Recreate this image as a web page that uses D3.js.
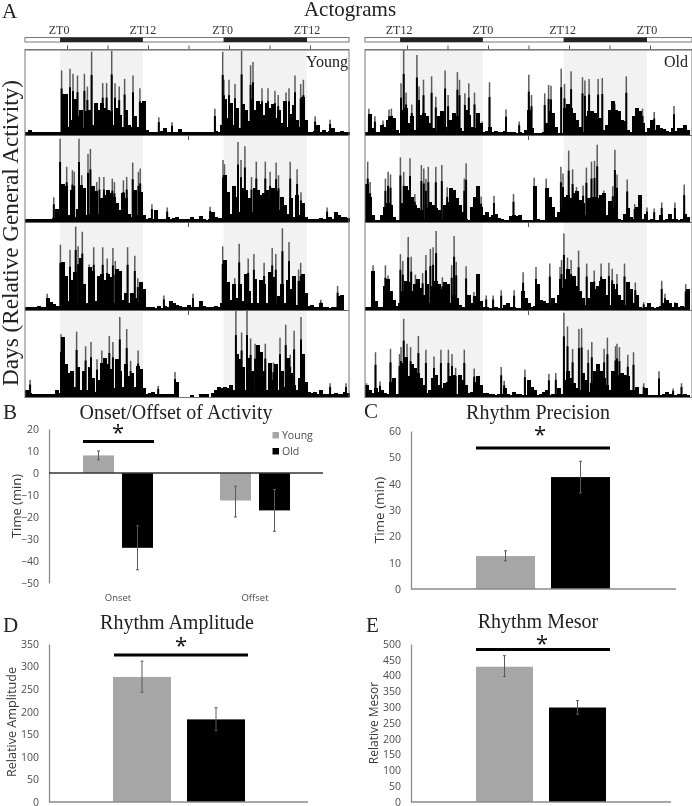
<!DOCTYPE html>
<html><head><meta charset="utf-8">
<script src="https://cdn.jsdelivr.net/npm/d3@7"></script>
<style>html,body{margin:0;padding:0;background:#fff}svg{display:block;filter:blur(.35px)}</style>
</head><body><svg id="c" width="692" height="806"></svg>
<script>
// ---- Actogram activity: bins are 1/108 of the two-day window, values % of row height
const youngBody1=[3,6,3,4,3,3,4,3,4,3,3,4, 48,48,10,18,42,22,30,8,28,30,12,38,30,38,32,30,28,12,32,24,10,30,12,10,22,10,38,40, 6,4,3,4,3,5,8,3,3,4,3,7,3,4,3,3,4,3,3,4,3,3,4,5,3,12, 42,20,38,12,32,8,36,30,16,42,30,40,36,24,38,32,36,20,30,14,40,10,25,35,18,10,45,18, 3,4,5,12,4,6,3,5,8,3,3,5,3,3];
const youngPeaks1=[[12.2,76],[15,78],[16,72],[17.5,70],[19.8,72],[20.8,57],[22.2,98],[25.9,61],[27.2,61],[28.9,99],[30,61],[31.4,57],[33.2,66],[36,70],[38.3,55],[44.6,21],[49,15],[63.3,31],[65.9,98],[66.3,65],[68,65],[70,60],[72.2,99],[75.2,82],[76,86],[79,55],[81,55],[83.3,52],[84.4,47],[87,50],[88,55],[90,70],[91.9,60],[92.8,65],[96.7,22],[101.7,18]];
const youngBody2=[3,3,4,3,4,4,3,4,3,5,15,6, 45,42,8,38,6,15,44,40,8,10,42,36,10,28,32,38,34,30,22,14,34,28,10,6,38,8,35,8, 3,5,3,14,4,3,3,6,3,5,6,3,3,4,3,6,4,3,7,3,2,4,12,6,5,5, 55,35,10,42,30,12,40,38,28,12,40,38,32,34,38,28,40,36,14,30,20,10,28,6,32,8,22,6, 3,3,4,3,5,3,3,6,3,12,8,6,6,5];
const youngPeaks2=[[11.7,98],[13.9,65],[15.8,61],[16.4,59],[18,98],[18.9,55],[21,80],[21.8,86],[23.9,47],[24.8,53],[26.3,53],[29.1,51],[29.8,47],[32.8,49],[33.9,53],[35.9,70],[37.8,59],[38.4,63],[9.6,29],[42.3,21],[47.4,17],[61.7,18],[66,73],[66.5,68],[71,94],[72,73],[73.3,89],[75.5,53],[77.1,71],[80.1,71],[81.7,59],[83.7,70],[84.5,55],[88.4,71],[90.7,62],[92,35],[100.7,17]];
const youngBody3=[3,3,4,3,5,3,3,14,9,7,5,5, 56,40,10,35,44,8,60,30,8,50,45,10,40,42,35,42,38,8,48,45,12,20,8,20,14,8,32,25, 4,3,4,2,5,2,5,3,10,8,6,5,4,3,6,4,3,3,11,5,4,3,3,5,3,8, 58,32,12,30,14,30,10,42,22,8,36,8,35,30,8,44,38,8,16,30,8,35,24,40,6,34,42,20, 5,6,4,3,8,3,3,2,4,3,16,18,0,0];
const youngPeaks3=[[7.4,19],[11.8,76],[15,70],[16.9,97],[17.7,74],[19.1,91],[21.4,53],[22.9,73],[25.9,73],[27.4,60],[29.3,72],[30.1,57],[32,27],[34.2,73],[36.6,63],[37.6,37],[46.3,17],[56,19],[65.9,74],[71.4,77],[69.9,37],[74.4,60],[76.3,65],[79.7,55],[82.4,72],[83.6,65],[85.8,95],[88,79],[91.2,47],[91.9,55],[98.6,12],[104.2,28]];
const youngBody4=[8,5,4,4,3,4,3,3,3,4,8,5, 70,38,28,30,12,35,8,30,8,35,22,6,20,40,45,38,32,10,44,30,12,38,24,28,12,36,32,10, 4,5,6,3,4,3,3,4,3,3,18,0,0,0,0,2,0,0,3,4,3,0,5,8,12,10, 12,10,14,8,50,44,35,8,45,30,8,60,52,30,8,40,20,38,8,30,12,45,28,14,8,22,50,18, 6,5,6,3,8,4,4,3,4,5,3,4,6,5];
const youngPeaks4=[[1.7,20],[12,73],[17.2,76],[20.2,59],[22,64],[24,44],[25.6,54],[28.1,71],[29.3,64],[31.6,93],[33.9,79],[35.2,42],[37.7,54],[44.4,13],[50,29],[70.3,100],[72.2,75],[74,100],[75.2,68],[76.7,62],[80.1,62],[82.8,40],[85,69],[86.9,84],[88.4,49],[89.7,77],[92,93],[101.7,16],[107,16]];
const oldBody1=[3,25,8,4,4,12,10,18,22,20,6,2, 30,32,14,22,6,8,24,26,22,14,8,4,22,28,10,5,18,26,22,8,5,30,24,10,8,26,14,4, 5,10,4,5,3,3,5,4,4,3,2,3,2,6,30,8,2,2,2,3,14,28,26,10,2,2, 32,36,32,26,18,10,4,22,28,28,26,18,20,6,12,30,40,30,28,18,16,6,4,22,32,28,14,4, 8,18,6,12,8,7,5,4,8,5,8,8,12,6];
const oldPeaks1=[[1.3,31],[3.3,22],[6,17],[8,30],[8.8,31],[12,61],[12.9,100],[13.7,50],[15.6,36],[17.3,94],[18,57],[19.5,65],[22.2,69],[23.6,45],[26.7,76],[27.7,47],[30.8,74],[31.5,65],[33.3,49],[34.6,61],[36.5,50],[39,16],[41.5,62],[47,30],[51.4,16],[54.6,71],[55.5,47],[59.9,49],[61.2,59],[62,58],[65.4,78],[66.5,60],[68.7,75],[72.5,68],[73.3,64],[74.7,66],[77.7,66],[79.1,67],[83.3,37],[87.1,69],[92.5,31],[96.4,27],[103,34]];
const oldBody2=[45,30,8,2,2,8,18,22,20,6,2,2, 22,42,38,30,20,16,14,3,16,24,20,16,14,3,20,24,40,38,28,20,12,3,2,18,30,42,18,8, 12,6,8,10,5,4,2,2,7,8,7,8,2,2,2,2,42,4,2,2,40,30,18,6,12,14, 30,32,28,34,36,26,22,8,28,30,30,28,32,34,8,25,16,22,4,2,10,16,6,3,18,32,3,10, 2,3,2,2,8,2,3,10,4,3,2,3,10,6];
const oldPeaks2=[[0.9,71],[1.7,47],[6.8,51],[7.7,59],[8.5,56],[11.8,76],[12.9,59],[15,75],[16.6,33],[18.8,67],[19.6,63],[20.3,51],[21.1,65],[23.6,65],[25.6,67],[27.4,41],[29.7,37],[33.7,69],[33.1,51],[38.7,30],[43,31],[49.5,33],[56.4,52],[60.4,51],[65.3,65],[66,57],[67.9,84],[69.2,62],[70.5,41],[72.7,43],[73.8,64],[75.5,71],[76.5,72],[77.4,91],[78.6,29],[79.6,37],[82.6,42],[83.3,85],[84,56],[87.4,50],[89.9,21],[94,17],[96.4,16],[98.9,23],[103.3,23],[106.4,44]];
const oldBody3=[4,4,45,10,4,3,28,36,22,12,5,8, 22,34,32,22,30,36,26,18,30,8,28,34,30,24,32,30,8,18,14,6,3,2,18,8,16,42,10,3, 3,2,2,3,2,2,6,8,4,3,2,2,22,14,8,3,5,30,12,10,8,6,14,8,18,26, 36,48,32,40,28,22,14,6,14,32,24,28,34,36,18,6,30,24,18,12,6,32,24,8,18,4,2,3, 8,3,2,3,5,8,12,8,3,8,3,5,3,24];
const oldPeaks3=[[2.7,52],[6.8,52],[7.7,40],[11.8,65],[12.6,57],[14.4,85],[15.4,62],[16.8,41],[19.2,43],[20.3,64],[21.8,71],[22.7,73],[23.7,92],[25.8,38],[28.9,52],[29.7,86],[30.4,56],[33.7,51],[36.3,21],[40.4,17],[42.7,17],[45.4,23],[49.7,23],[52.7,44],[57,50],[61.6,54],[65,50],[65.5,58],[66.3,89],[67.5,61],[68.7,58],[71.2,69],[73.9,54],[76.4,46],[78.7,54],[81.3,55],[82.4,48],[84,42],[86.5,54],[90.1,32],[92.9,9],[98.9,34],[100,19],[103.3,9],[106.9,30]];
const oldBody4=[14,8,5,10,6,8,5,4,18,22,3,2, 40,46,24,38,34,28,22,14,5,8,22,26,14,10,16,18,24,26,4,26,20,14,5,6,18,24,14,5, 5,3,3,2,4,4,10,4,2,6,4,3,2,2,20,12,8,2,3,6,8,2,3,4,10,3, 20,30,22,16,10,8,28,20,6,16,30,38,30,22,14,8,30,24,26,28,26,24,8,8,12,4,3,10, 2,2,2,2,2,3,6,3,2,2,3,2,3,2];
const oldPeaks4=[[0.5,16],[3.5,52],[5,18],[8.5,56],[11.5,50],[12,58],[12.9,91],[14,62],[15.2,58],[17.8,71],[20.3,55],[23,47],[25.3,55],[27.8,55],[29,50],[30.2,34],[33.1,55],[36.4,33],[45.4,35],[46.4,19],[53.3,32],[61.3,27],[63.6,28],[66.3,98],[67.5,82],[69.2,56],[71.3,79],[72.2,80],[74.4,55],[75.6,64],[80.8,69],[79.7,56],[83.5,59],[84,62],[84.8,58],[87.6,49],[89.5,52],[92.9,16],[98,30],[102.7,10],[105.5,16]];

// ---- Summary bars
const groups=["Young","Old"];
const onsetYoung=[8,-12.5], onsetOld=[-34,-17], onsetCats=["Onset","Offset"];
const onsetYoungErr=[[6,10],[-20,-6]], onsetOldErr=[[-44,-24],[-26.5,-7.5]];
const precision=[12.5,42.5], precisionErr=[[10.7,14.5],[36.5,48.5]];
const amplitude=[277,183], amplitudeErr=[[243,312],[158,209]];
const mesor=[428,299], mesorErr=[[397,463],[278,321]];
const onsetTicks=[20,10,0,-10,-20,-30,-40,-50];
const precisionTicks=[0,10,20,30,40,50,60];
const amplitudeTicks=[0,50,100,150,200,250,300,350];
const mesorTicks=[0,50,100,150,200,250,300,350,400,450,500];
const zeitLabelsLeft=["ZT0","ZT12","ZT0","ZT12"];
const zeitLabelsRight=["ZT12","ZT0","ZT12","ZT0"];

const svg=d3.select("#c");
const serif="'Liberation Serif',serif", sans="'Open Sans',sans-serif";
const GRAY="#a6a6a6", AX="#8a8a8a", TXT="#4d4d4d";

function txt(x,y,s,size,fam,o={}){
  const t=svg.append("text").attr("x",x).attr("y",y).text(s).attr("font-size",size).attr("font-family",fam)
    .attr("fill",o.fill||"#222").attr("text-anchor",o.anchor||"start");
  if(o.rot) t.attr("transform",`rotate(${o.rot} ${x} ${y})`);
  return t;
}

// ---- Actograms
const rowTops=[50,137,224,311], rowBase=[135,222,310,397];
const halfWindow=[11.7,39.3,66.2,94];
function actogram(x0,x1,bodies,peaks,zeit){
  const bin=d3.scaleLinear().domain([0,108]).range([x0,x0+324]);
  const g=svg.append("g");
  const spans=[[halfWindow[0],halfWindow[1]],[halfWindow[2],halfWindow[3]]];
  spans.forEach(([a,b])=>{
    g.append("rect").attr("x",bin(a)).attr("width",bin(b)-bin(a)).attr("y",rowTops[0]).attr("height",rowBase[3]-rowTops[0]).attr("fill","#f2f2f2");
  });
  g.append("rect").attr("x",x0).attr("y",37.5).attr("width",x1-x0).attr("height",4.5).attr("fill","none").attr("stroke","#777").attr("stroke-width",1);
  spans.forEach(([a,b])=>{
    g.append("rect").attr("x",bin(a)).attr("width",bin(b)-bin(a)).attr("y",37.5).attr("height",4.5).attr("fill","#222");
  });
  bodies.forEach((b,i)=>{
    const y=d3.scaleLinear().domain([0,100]).range([rowBase[i],rowTops[i]]);
    g.append("g").selectAll("line").data(peaks[i]).join("line")
      .attr("x1",d=>bin(d[0])).attr("x2",d=>bin(d[0])).attr("y1",y(0)).attr("y2",d=>y(d[1]))
      .attr("stroke","#5c5c5c").attr("stroke-width",1.5);
    g.append("g").selectAll("line").data(peaks[i]).join("line")
      .attr("x1",d=>bin(d[0])).attr("x2",d=>bin(d[0])).attr("y1",y(0)).attr("y2",d=>y(d[1]*.72))
      .attr("stroke","#000").attr("stroke-width",2);
    g.append("g").attr("shape-rendering","crispEdges").selectAll("rect").data(b).join("rect")
      .attr("x",(d,k)=>bin(k)).attr("width",bin(1)-bin(0)+.6).attr("y",d=>y(d)).attr("height",d=>y(0)-y(d)).attr("fill","#000");
    g.append("line").attr("x1",x0).attr("x2",x1).attr("y1",rowBase[i]+.5).attr("y2",rowBase[i]+.5).attr("stroke","#666").attr("stroke-width",1);
  });
  // hour axis across the top
  const hours=d3.scaleLinear().domain([0,48]).range([x0+1.5,x0+325.5]);
  const ax=d3.axisTop(hours).tickValues(d3.range(6,48,6)).tickSize(4).tickFormat("");
  g.append("g").attr("transform","translate(0,49.5)").call(ax).call(s=>{s.select(".domain").attr("stroke","#666").attr("d",`M${x0},0.5H${x1}`);s.selectAll("line").attr("stroke","#555")});
  g.append("rect").attr("x",x0).attr("y",49.5).attr("width",x1-x0).attr("height",rowBase[3]-49).attr("fill","none").attr("stroke","#777").attr("stroke-width",1);
  rowBase.slice(0,3).forEach(yb=>g.append("line").attr("x1",hours(24)).attr("x2",hours(24)).attr("y1",yb+1).attr("y2",yb+5).attr("stroke","#555"));
  zeit.forEach((s,i)=>txt(bin(halfWindow[i])-(i%2?0:1),34,s,12,serif,{anchor:"middle",fill:"#333"}));
}
actogram(25,349,[youngBody1,youngBody2,youngBody3,youngBody4],[youngPeaks1,youngPeaks2,youngPeaks3,youngPeaks4],zeitLabelsLeft);
actogram(365,692,[oldBody1,oldBody2,oldBody3,oldBody4],[oldPeaks1,oldPeaks2,oldPeaks3,oldPeaks4],zeitLabelsRight);

txt(350,16,"Actograms",21,serif,{anchor:"middle"});
txt(2,18,"A",21,serif);
txt(348,67,"Young",16,serif,{anchor:"end"});
txt(688,67,"Old",16,serif,{anchor:"end"});
txt(18,233,"Days (Relative General Activity)",23.2,serif,{anchor:"middle",rot:-90});

// ---- Bar panels
function panel(c){
  const y=d3.scaleLinear().domain(c.dom).range([c.y0,c.y1]);
  const gy=svg.append("g").attr("transform",`translate(${c.xa},0)`).call(d3.axisLeft(y).tickValues(c.ticks).tickSize(0).tickPadding(c.pad||10));
  gy.select(".domain").attr("stroke",AX).attr("stroke-width",1.3);
  gy.selectAll("text").attr("font-family",sans).attr("font-size",10.5).attr("fill",TXT);
  txt(c.lx,c.ly,c.label,c.lsize||13,sans,{anchor:"middle",rot:-90,fill:"#3a3a3a"});
  txt(c.tx,c.ty,c.title,20,serif,{anchor:"middle"});
  txt(c.lettx,c.letty,c.letter,21,serif);
  return y;
}
function zeroLine(y,c){
  svg.append("line").attr("x1",c.xa).attr("x2",c.xe).attr("y1",y(0)).attr("y2",y(0)).attr("stroke",c.stroke||AX).attr("stroke-width",1.3);
}
function bars(y,xs,w,vals,errs,fill){
  const g=svg.append("g");
  g.selectAll("rect").data(vals).join("rect").attr("x",(d,i)=>xs(i)).attr("width",w)
    .attr("y",d=>Math.min(y(d),y(0))).attr("height",d=>Math.abs(y(d)-y(0))).attr("fill",fill);
  errs.forEach((e,i)=>{
    const cx=xs(i)+w/2;
    g.append("line").attr("x1",cx).attr("x2",cx).attr("y1",y(e[0])).attr("y2",y(e[1])).attr("stroke","#5a5a5a").attr("stroke-width",1);
    e.forEach(v=>g.append("line").attr("x1",cx-1.5).attr("x2",cx+1.5).attr("y1",y(v)).attr("y2",y(v)).attr("stroke","#5a5a5a").attr("stroke-width",1));
  });
}
function sig(x1,x2,yy,sx,sy){
  svg.append("rect").attr("x",x1).attr("width",x2-x1).attr("y",yy-1.5).attr("height",3).attr("fill","#000");
  txt(sx,sy,"*",22,sans,{anchor:"middle",fill:"#111"});
}

// B
const yB=panel({dom:[-50,20],y0:583,y1:429,xa:49,ticks:onsetTicks,label:"Time (min)",lx:21,ly:506,title:"Onset/Offset of Activity",tx:176,ty:419,letter:"B",lettx:3,letty:419,pad:10});
const bandB=d3.scaleBand().domain(onsetCats).range([49.5,323.5]);
const xYoung=i=>bandB(onsetCats[i])+bandB.step()/2-35, xOld=i=>bandB(onsetCats[i])+bandB.step()/2+4;
bars(yB,xYoung,31,onsetYoung,onsetYoungErr,GRAY);
bars(yB,xOld,31,onsetOld,onsetOldErr,"#000");
zeroLine(yB,{xa:49,xe:323,stroke:"#333"});
svg.selectAll(null).data(onsetCats).join("text").attr("x",d=>bandB(d)+bandB.step()/2).attr("y",601).text(d=>d)
  .attr("text-anchor","middle").attr("font-family",sans).attr("font-size",9.5).attr("fill",TXT);
sig(83,154,441.5,118,440);
const legY=d3.scalePoint().domain(groups).range([435,451]);
groups.forEach((g,i)=>{
  svg.append("rect").attr("x",272.5).attr("y",legY(g)-3).attr("width",6.5).attr("height",6.5).attr("fill",i?"#000":GRAY);
  txt(282,legY(g)+4,g,10.5,sans,{fill:TXT});
});

function twoBars(yS,vals,errs,x0,w,step){
  const band=d3.scaleBand().domain(groups).range([x0,x0+2*step]);
  bars(yS,()=>band(groups[0]),w,[vals[0]],[errs[0]],GRAY);
  bars(yS,()=>band(groups[1]),w,[vals[1]],[errs[1]],"#000");
}
// C
const yC=panel({dom:[0,60],y0:589,y1:431,xa:411,ticks:precisionTicks,label:"Time (min)",lx:384,ly:510,lsize:13.5,title:"Rhythm Precision",tx:538,ty:419,letter:"C",lettx:364,letty:418,pad:10});
twoBars(yC,precision,precisionErr,476,59,75);
zeroLine(yC,{xa:411,xe:676});
sig(476,610,448,540,442);
// D
const yD=panel({dom:[0,350],y0:802,y1:644,xa:49,ticks:amplitudeTicks,label:"Relative Amplitude",lx:16,ly:722,lsize:12.6,title:"Rhythm Amplitude",tx:177,ty:629,letter:"D",lettx:3,letty:632,pad:10});
twoBars(yD,amplitude,amplitudeErr,113,58,74);
zeroLine(yD,{xa:49,xe:308});
sig(114,248,655,181,653);
// E
const yE=panel({dom:[0,500],y0:802,y1:644,xa:411,ticks:mesorTicks,label:"Relative Mesor",lx:378,ly:723,lsize:12,title:"Rhythm Mesor",tx:538,ty:628,letter:"E",lettx:366,letty:632,pad:10});
twoBars(yE,mesor,mesorErr,476,57,73);
zeroLine(yE,{xa:411,xe:671});
sig(476,610,649.5,542,651);
</script></body></html>
